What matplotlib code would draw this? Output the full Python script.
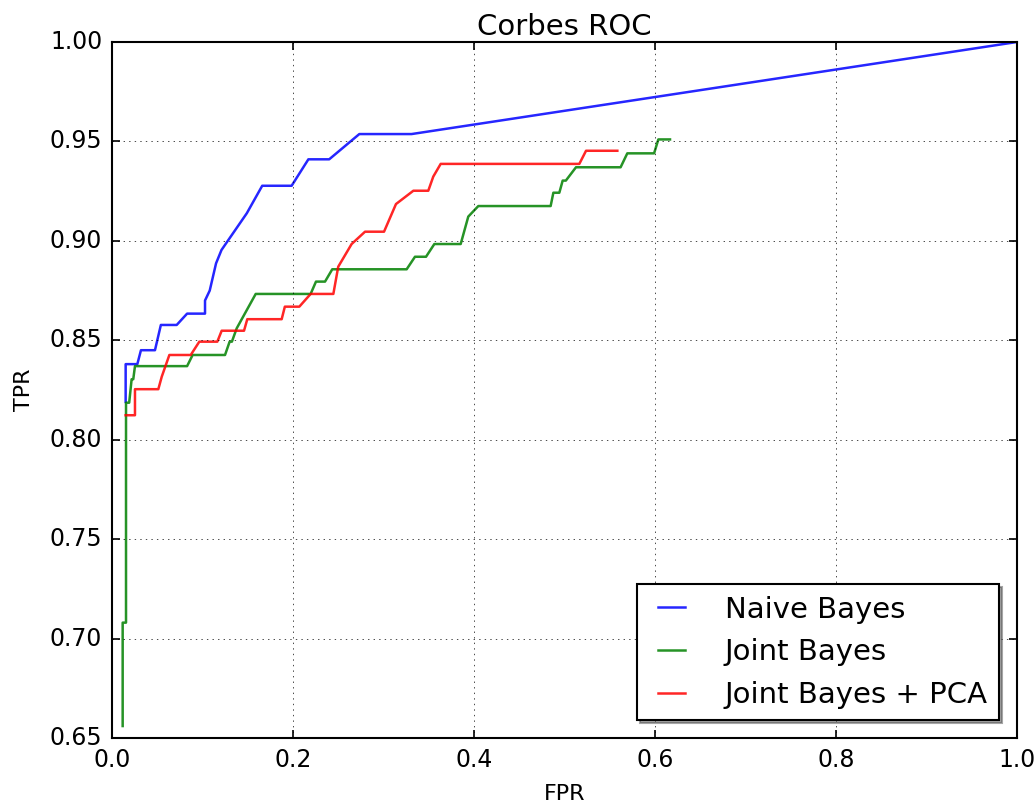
import matplotlib
matplotlib.use("Agg")
import matplotlib.pyplot as plt

plt.style.use("classic")

# Naive Bayes ROC points
nb_fpr = [0.0151, 0.0151, 0.028, 0.032, 0.0475, 0.054, 0.0715, 0.083, 0.1028, 0.1028,
          0.108, 0.115, 0.121, 0.149, 0.166, 0.1985, 0.217, 0.240, 0.2733, 0.331, 1.0]
nb_tpr = [0.819, 0.838, 0.838, 0.845, 0.845, 0.8577, 0.8577, 0.8634, 0.8634, 0.870,
          0.875, 0.8887, 0.8954, 0.9139, 0.9277, 0.9277, 0.941, 0.941, 0.9537, 0.9537, 1.0]

# Joint Bayes ROC points
jb_fpr = [0.0118, 0.0118, 0.0155, 0.0155, 0.019, 0.0217, 0.0235, 0.0254, 0.083, 0.0891,
          0.1249, 0.130, 0.1325, 0.1378, 0.1588, 0.2195, 0.2254, 0.2354, 0.2434, 0.3256,
          0.3348, 0.347, 0.3562, 0.3853, 0.3937, 0.4048, 0.4847, 0.4877, 0.4943, 0.498,
          0.5015, 0.5127, 0.562, 0.5694, 0.599, 0.6037, 0.6166]
jb_tpr = [0.656, 0.708, 0.708, 0.8186, 0.8186, 0.8304, 0.8304, 0.837, 0.837, 0.8426,
          0.8426, 0.8493, 0.8493, 0.856, 0.8733, 0.8733, 0.8795, 0.8795, 0.8857, 0.8857,
          0.892, 0.892, 0.8984, 0.8984, 0.9122, 0.9175, 0.9175, 0.9242, 0.9242, 0.9303,
          0.9303, 0.937, 0.937, 0.944, 0.944, 0.951, 0.951]

# Joint Bayes + PCA ROC points
pca_fpr = [0.0151, 0.0254, 0.0254, 0.0512, 0.055, 0.0634, 0.087, 0.0965, 0.1164, 0.1212,
           0.1459, 0.1495, 0.1875, 0.191, 0.207, 0.2195, 0.2446, 0.25, 0.2648, 0.2796,
           0.3006, 0.3138, 0.333, 0.3495, 0.355, 0.3632, 0.5164, 0.5238, 0.5584]
pca_tpr = [0.8123, 0.8123, 0.8254, 0.8254, 0.8317, 0.8426, 0.8426, 0.8493, 0.8493, 0.8548,
           0.8548, 0.8606, 0.8606, 0.8669, 0.8669, 0.8733, 0.8733, 0.887, 0.8984, 0.9046,
           0.9046, 0.9185, 0.9252, 0.9252, 0.9323, 0.9387, 0.9387, 0.9453, 0.9453]

fig = plt.figure(figsize=(10.35, 8.06), dpi=100, facecolor="white")
ax = fig.add_axes([0.1082, 0.0844, 0.8744, 0.8635])

ax.plot(nb_fpr, nb_tpr, color="b", lw=1.8, alpha=0.85, label="Naive Bayes")
ax.plot(jb_fpr, jb_tpr, color="g", lw=1.8, alpha=0.85, label="Joint Bayes")
ax.plot(pca_fpr, pca_tpr, color="r", lw=1.8, alpha=0.85, label="Joint Bayes + PCA")

ax.set_xlim(0.0, 1.0)
ax.set_ylim(0.65, 1.0)
ax.set_xticks([0.0, 0.2, 0.4, 0.6, 0.8, 1.0])
ax.set_yticks([0.65, 0.70, 0.75, 0.80, 0.85, 0.90, 0.95, 1.00])
ax.tick_params(labelsize=17, pad=7, width=1.2, length=6)
for s in ax.spines.values():
    s.set_linewidth(1.5)
ax.grid(True)

ax.set_title("Corbes ROC", fontsize=21, pad=5)
ax.set_xlabel("FPR", fontsize=16, labelpad=9)
ax.set_ylabel("TPR", fontsize=16, labelpad=11)

leg = ax.legend(loc="lower right", fontsize=21, shadow=True, fancybox=False,
                borderaxespad=0.6, handlelength=1.55, handletextpad=1.05)
leg.get_frame().set_linewidth(1.5)

fig.savefig("out.png", dpi=100, facecolor="white")
